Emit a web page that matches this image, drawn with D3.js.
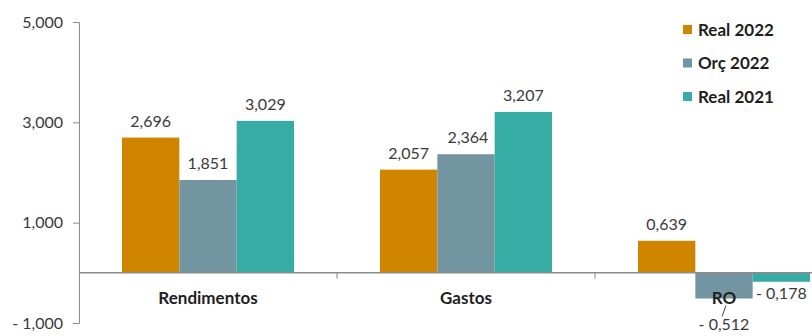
<!DOCTYPE html>
<html>
<head>
<meta charset="utf-8">
<script src="https://cdn.jsdelivr.net/npm/d3@7/dist/d3.min.js"></script>
<style>
  html, body { margin: 0; padding: 0; background: #fff; }
  svg { display: block; font-family: Lato, "Open Sans", sans-serif; }
</style>
</head>
<body>
<svg id="chart" width="812" height="336"></svg>
<script>
// Categories, series and values (milhares)
const categories = ["Rendimentos", "Gastos", "RO"];
const seriesNames = ["Real 2022", "Orç 2022", "Real 2021"];
const real2022 = [2.696, 2.057, 0.639];
const orc2022 = [1.851, 2.364, -0.512];
const real2021 = [3.029, 3.207, -0.178];
const yTicks = [-1, 1, 3, 5];
const colors = ["#D08500", "#7395A1", "#36ACA4"];

const seriesValues = [real2022, orc2022, real2021];

(function draw() {
  const svg = d3.select("#chart");
  const plotLeft = 79, plotRight = 853, plotTop = 22, plotBottom = 323;

  const x0 = d3.scaleBand().domain(categories).range([plotLeft, plotRight]).paddingInner(0).paddingOuter(0);
  const x1 = d3.scaleBand().domain(seriesNames).range([0, x0.bandwidth()]).paddingInner(0).paddingOuter(0.75);
  const y = d3.scaleLinear().domain([-1, 5]).range([plotBottom, plotTop]);

  const fmt = v => (v < 0 ? "- " : "") + Math.abs(v).toFixed(3).replace(".", ",");
  const axisColor = "#8C8C8C";
  const textColor = "#3A3A3A";

  // Y axis
  const yAxis = svg.append("g")
    .attr("transform", `translate(${plotLeft},0)`)
    .call(d3.axisLeft(y).tickValues(yTicks).tickFormat(fmt).tickSizeOuter(0).tickSize(6).tickPadding(10));
  yAxis.select(".domain").attr("stroke", axisColor);
  yAxis.selectAll(".tick line").attr("stroke", axisColor);
  yAxis.selectAll(".tick text").attr("fill", textColor).style("font-size", "16px").style("font-family", "Lato, sans-serif");

  // Bars
  const rows = [];
  categories.forEach((c, i) => {
    seriesNames.forEach((s, j) => rows.push({ cat: c, series: s, j, v: seriesValues[j][i] }));
  });

  svg.append("g").selectAll("rect").data(rows).join("rect")
    .attr("x", d => x0(d.cat) + x1(d.series))
    .attr("width", x1.bandwidth())
    .attr("y", d => y(Math.max(0, d.v)))
    .attr("height", d => Math.abs(y(d.v) - y(0)))
    .attr("fill", d => colors[d.j]);

  // Zero line with category separators
  const zeroY = y(0);
  svg.append("line").attr("x1", plotLeft).attr("x2", 812).attr("y1", zeroY).attr("y2", zeroY)
    .attr("stroke", axisColor).attr("stroke-width", 1.5);
  svg.append("g").selectAll("line").data(categories.slice(1)).join("line")
    .attr("x1", d => x0(d)).attr("x2", d => x0(d))
    .attr("y1", zeroY).attr("y2", zeroY + 6)
    .attr("stroke", axisColor);

  // Category labels
  svg.append("g").selectAll("text").data(categories).join("text")
    .attr("x", d => x0(d) + x0.bandwidth() / 2)
    .attr("y", zeroY + 31)
    .attr("text-anchor", "middle")
    .attr("fill", "#1E1E1E")
    .style("font-size", "17px")
    .style("font-weight", "bold")
    .text(d => d);

  // Value labels; the displaced negative Orç label gets a leader line
  const displaced = d => d.v < 0 && d.j === 1;
  const labelY = d => {
    if (d.v >= 0) return y(d.v) - 11;
    return y(d.v) + 17 + (displaced(d) ? 14 : 0);
  };
  const labels = svg.append("g");
  labels.selectAll("text").data(rows).join("text")
    .attr("x", d => x0(d.cat) + x1(d.series) + x1.bandwidth() / 2 + (d.j === 1 && d.v > 0 && d.cat === "Gastos" ? 2 : 0))
    .attr("y", labelY)
    .attr("text-anchor", "middle")
    .attr("fill", textColor)
    .style("font-size", "16px")
    .text(d => fmt(d.v));

  labels.selectAll("line").data(rows.filter(displaced)).join("line")
    .attr("x1", d => x0(d.cat) + x1(d.series) + x1.bandwidth() / 2 - 2)
    .attr("x2", d => x0(d.cat) + x1(d.series) + x1.bandwidth() / 2 + 2)
    .attr("y1", d => labelY(d) - 13)
    .attr("y2", d => labelY(d) - 24)
    .attr("stroke", "#404040").attr("stroke-width", 1);

  // Legend
  const legend = svg.append("g").attr("transform", "translate(683,25)");
  const items = legend.selectAll("g").data(seriesNames).join("g")
    .attr("transform", (d, i) => `translate(0,${i * 33.5})`);
  items.append("rect").attr("width", 9).attr("height", 9).attr("fill", (d, i) => colors[i]);
  items.append("text").attr("x", 15).attr("y", 10.5)
    .attr("fill", "#1E1E1E").style("font-size", "17px").style("font-weight", "bold")
    .text(d => d);
})();
</script>
</body>
</html>
